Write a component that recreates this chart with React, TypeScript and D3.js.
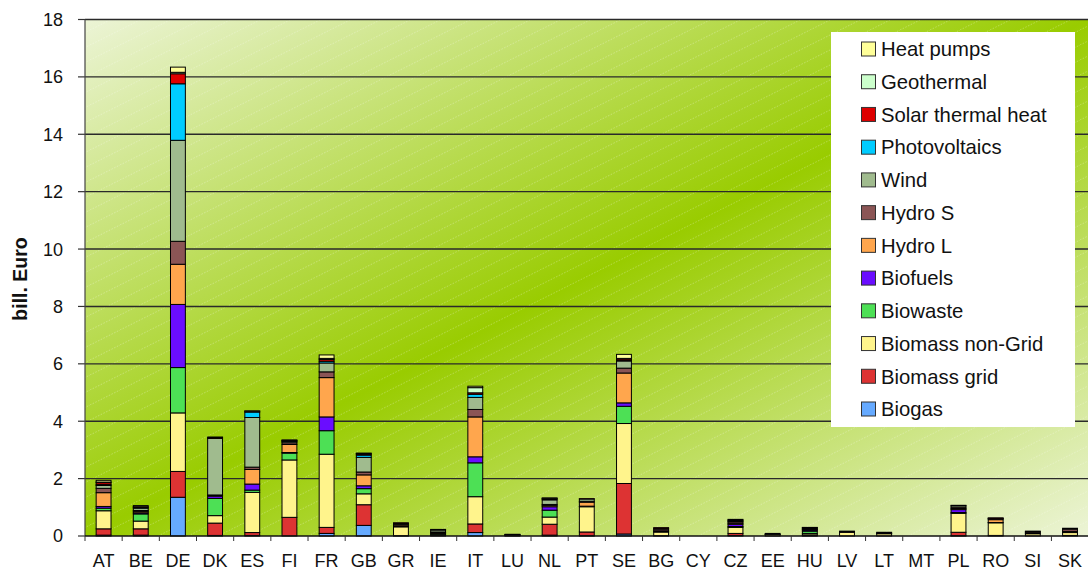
import React from "react";
import * as d3 from "d3";

const countries = ["AT","BE","DE","DK","ES","FI","FR","GB","GR","IE","IT","LU","NL","PT","SE","BG","CY","CZ","EE","HU","LV","LT","MT","PL","RO","SI","SK"];

// Investment per technology (bill. Euro), one value per country above
const biogas =         [0.03,0.03,1.35,0.02,0.02,0,   0.09,0.37,0,   0,   0.12,0,   0.03,0.01,0.07,0,   0,0.02,0,   0.01,0,   0,   0,0.01,0,   0,   0];
const biomassGrid =    [0.22,0.22,0.90,0.43,0.10,0.65,0.21,0.72,0.01,0.02,0.30,0.01,0.38,0.13,1.76,0.01,0,0.07,0,   0.03,0,   0,   0,0.12,0.02,0,   0.02];
const biomassNonGrid = [0.63,0.27,2.04,0.26,1.40,2.00,2.55,0.38,0.31,0.04,0.95,0.01,0.25,0.88,2.09,0.13,0,0.21,0.05,0.05,0.13,0.08,0,0.66,0.44,0.08,0.10];
const biowaste =       [0.09,0.25,1.58,0.60,0.08,0.24,0.82,0.18,0.01,0.03,1.18,0.01,0.24,0.02,0.60,0.01,0,0.03,0,   0.08,0,   0.01,0,0.03,0.01,0,   0];
const biofuels =       [0.06,0.04,2.20,0.08,0.21,0.02,0.48,0.10,0,   0,   0.21,0,   0.12,0,   0.12,0,   0,0.08,0,   0.04,0,   0,   0,0.10,0,   0,   0];
const hydroL =         [0.48,0.05,1.40,0.02,0.51,0.28,1.37,0.38,0.05,0.03,1.39,0.01,0.05,0.14,1.04,0.03,0,0.04,0,   0.02,0,   0,   0,0.04,0.10,0.03,0.04];
const hydroS =         [0.15,0.03,0.80,0.02,0.08,0.06,0.20,0.10,0.03,0.02,0.26,0,   0.03,0.03,0.17,0.06,0,0.05,0.01,0.02,0.02,0.02,0,0.05,0.04,0.04,0.08];
const wind =           [0.10,0.08,3.52,1.97,1.73,0.05,0.31,0.51,0.03,0.07,0.42,0.01,0.16,0.08,0.25,0.03,0,0.03,0.03,0.03,0.02,0.02,0,0.05,0.01,0.02,0.03];
const photovoltaics =  [0.03,0.03,1.97,0.01,0.19,0.01,0.06,0.08,0,   0,   0.11,0,   0.03,0,   0.02,0,   0,0.03,0,   0,   0,   0,   0,0,   0,   0,   0];
const solarThermal =   [0.07,0.02,0.35,0.02,0.03,0.02,0.06,0.04,0.02,0.01,0.05,0.01,0.02,0.01,0.05,0.02,0,0.02,0,   0.01,0,   0,   0,0.01,0.01,0,   0];
const geothermal =     [0.02,0,   0.05,0,   0,   0,   0.04,0.01,0,   0,   0.18,0,   0,   0,   0.02,0,   0,0,   0,   0.01,0,   0,   0,0,   0,   0,   0];
const heatPumps =      [0.06,0.04,0.18,0.02,0.01,0.02,0.12,0.02,0,   0.01,0.05,0,   0.02,0,   0.14,0,   0,0,   0,   0,   0,   0,   0,0,   0,   0,   0];

const seriesNames = ["Biogas","Biomass grid","Biomass non-Grid","Biowaste","Biofuels","Hydro L","Hydro S","Wind","Photovoltaics","Solar thermal heat","Geothermal","Heat pumps"];
const seriesValues = [biogas, biomassGrid, biomassNonGrid, biowaste, biofuels, hydroL, hydroS, wind, photovoltaics, solarThermal, geothermal, heatPumps];
const seriesColors = ["#66aaff","#dd3333","#fff48c","#4de055","#6a0dff","#ffa64d","#8b5555","#a0bb8e","#00ccff","#dd0000","#ccffcc","#ffff99"];

const yTicks = [0,2,4,6,8,10,12,14,16,18];

const W = 1088, H = 570;
const left = 85, right = 1088.6, top = 19.5, bottom = 536;
const FONT = "'Liberation Sans', Arial, sans-serif";

export default function App() {
  const x = d3.scaleBand<string>().domain(countries).range([left, right]).paddingInner(0.6).paddingOuter(0.3);
  const y = d3.scaleLinear().domain([0, 18]).range([bottom, top]);

  const table = countries.map((c, i) => {
    const row: Record<string, any> = { country: c };
    seriesNames.forEach((s, k) => { row[s] = seriesValues[k][i]; });
    return row;
  });
  const stacked = d3.stack().keys(seriesNames)(table as any);

  const step = x.step();
  const boundaries = d3.range(countries.length + 1).map(i => left + i * step);

  const legendOrder = [...seriesNames].reverse();
  const legendY = d3.scalePoint<string>().domain(legendOrder).range([49, 409]);

  return (
    <div style={{ position: "fixed", left: 0, top: 0 }}>
      <svg width={W} height={H} style={{ display: "block", fontFamily: FONT }}>
        <defs>
          <linearGradient id="plotBg" x1="0" y1="0" x2="1" y2="1">
            <stop offset="0" stopColor="#ecf4d6" />
            <stop offset="0.5" stopColor="#99cc00" />
            <stop offset="1" stopColor="#ecf4d6" />
          </linearGradient>
          <pattern id="hatch" patternUnits="userSpaceOnUse" width="30" height="15">
            <line x1="0" y1="15" x2="30" y2="0" stroke="#ffffff" strokeOpacity="0.35" strokeWidth="0.8" strokeDasharray="1.5 1.5" />
          </pattern>
        </defs>
        <rect x={0} y={0} width={W} height={H} fill="#ffffff" />
        <rect x={left} y={top} width={right - left} height={bottom - top} fill="url(#plotBg)" />
        <rect x={left} y={top} width={right - left} height={bottom - top} fill="url(#hatch)" />

        {yTicks.map(t => (
          <g key={t}>
            {t > 0 && <line x1={left} x2={right} y1={y(t)} y2={y(t)} stroke="#2a2a2a" strokeWidth={1.4} />}
            <line x1={78} x2={left} y1={y(t)} y2={y(t)} stroke="#333" strokeWidth={1.2} />
            <text x={63} y={y(t)} dy="0.36em" textAnchor="end" fontSize={18} fill="#111">{t}</text>
          </g>
        ))}

        {stacked.map((layer, k) => (
          <g key={layer.key} fill={seriesColors[k]}>
            {layer.map((d, i) => {
              const h = y(d[0]) - y(d[1]);
              if (h <= 0) return null;
              return (
                <rect key={i} x={x(countries[i])} y={y(d[1])} width={x.bandwidth()} height={h}
                  stroke="#000" strokeWidth={1} />
              );
            })}
          </g>
        ))}

        <line x1={left} x2={left} y1={top} y2={bottom} stroke="#444" strokeWidth={1.2} />
        <line x1={left} x2={right} y1={bottom} y2={bottom} stroke="#111" strokeWidth={1.4} />
        {boundaries.map((b, i) => (
          <line key={i} x1={b} x2={b} y1={bottom} y2={bottom + 5} stroke="#333" strokeWidth={1} />
        ))}
        {countries.map(c => (
          <text key={c} x={(x(c) as number) + x.bandwidth() / 2} y={567} textAnchor="middle" fontSize={18} fill="#111">{c}</text>
        ))}

        <text transform="translate(27,279) rotate(-90)" textAnchor="middle" fontSize={19.5} fontWeight="bold" fill="#111">bill. Euro</text>

        <rect x={831} y={32} width={244} height={395} fill="#ffffff" />
        {legendOrder.map(s => {
          const k = seriesNames.indexOf(s);
          const cy = legendY(s) as number;
          return (
            <g key={s}>
              <rect x={861.5} y={cy - 7} width={14} height={14} fill={seriesColors[k]} stroke="#333" strokeWidth={1} />
              <text x={881} y={cy} dy="0.36em" fontSize={20.3} fill="#111">{s}</text>
            </g>
          );
        })}
      </svg>
    </div>
  );
}
